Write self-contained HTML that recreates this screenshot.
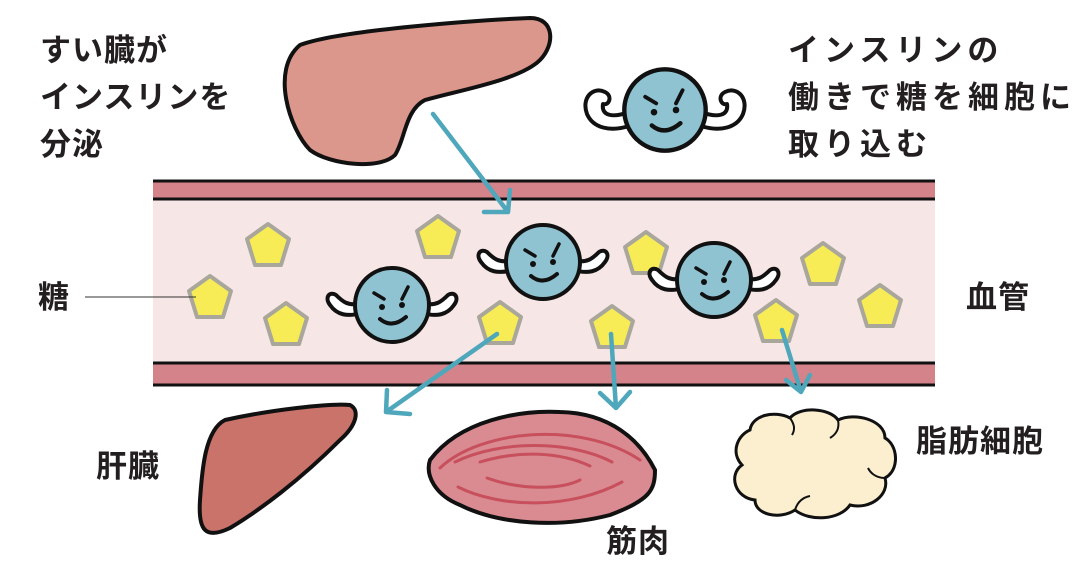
<!DOCTYPE html>
<html><head><meta charset="utf-8"><style>
html,body{margin:0;padding:0;background:#fff}
svg{display:block}
text{font-family:"Liberation Sans","Noto Sans CJK JP",sans-serif;font-weight:bold;fill:#231f20}
</style></head><body>
<svg width="1079" height="570" viewBox="0 0 1079 570" xmlns="http://www.w3.org/2000/svg">
<defs>
<g id="face">
  <circle r="37" fill="#8fc3d2" stroke="#111" stroke-width="4"/>
  <path d="M-18,-12 L-8,-6 M16,-18 L10,-6" stroke="#111" stroke-width="3.5" stroke-linecap="round"/>
  <circle cx="-10" cy="2" r="3" fill="#111"/><circle cx="10" cy="0" r="3" fill="#111"/>
  <path d="M-12,14 Q0,24 14,12" fill="none" stroke="#111" stroke-width="4" stroke-linecap="round"/>
</g>
<g id="ins">
  <path d="M-30,8 C-45,12 -55,10 -62,0 C-68,-8 -62,-14 -56,-10 C-50,-4 -44,2 -30,-2 Z" fill="#fff" stroke="#111" stroke-width="4" stroke-linejoin="round"/>
  <path d="M30,8 C45,12 55,10 62,0 C68,-8 62,-14 56,-10 C50,-4 44,2 30,-2 Z" fill="#fff" stroke="#111" stroke-width="4" stroke-linejoin="round"/>
  <use href="#face"/>
</g>
<polygon id="glu" points="0,-22 21,-7 13,19 -13,19 -21,-7" fill="#f7ec55" stroke="#a9a69c" stroke-width="4" stroke-linejoin="round"/>
</defs>
<rect width="1079" height="570" fill="#fff"/>
<!-- vessel -->
<rect x="153" y="200" width="782" height="163" fill="#f7e6e6"/>
<rect x="153" y="182" width="782" height="17" fill="#d4838b"/>
<rect x="153" y="364" width="782" height="20" fill="#d4838b"/>
<path d="M153,181 H935 M153,199 H935 M153,363 H935 M153,385 H935" stroke="#111" stroke-width="3"/>
<!-- pancreas -->
<path d="M300,45 C340,30 480,20 530,18 C555,18 555,45 540,60 C520,80 460,90 425,100 C405,110 405,140 395,155 C380,170 330,165 310,150 C290,130 270,70 300,45 Z" fill="#db978c" stroke="#111" stroke-width="4"/>
<!-- liver -->
<path d="M225,420 C270,410 330,403 350,405 C360,410 357,425 340,440 C300,480 260,510 230,528 C205,540 198,530 200,500 C202,470 205,430 225,420 Z" fill="#c9736b" stroke="#111" stroke-width="4"/>
<!-- muscle -->
<path d="M430,460 C460,420 520,410 560,412 C610,413 640,440 655,470 C655,490 650,500 610,515 C560,528 500,525 460,505 C435,495 425,475 430,460 Z" fill="#d98b91" stroke="#111" stroke-width="4"/>
<g fill="none" stroke="#c8505d" stroke-width="3" stroke-linecap="round">
<path d="M440,468 C480,430 580,420 640,460"/><path d="M455,462 C500,440 570,440 612,462"/><path d="M480,462 C520,450 560,452 590,466"/>
<path d="M487,478 C520,490 560,490 580,480"/><path d="M458,487 C500,508 570,510 622,482"/>
</g>
<!-- fat -->
<path d="M750,430 C752,415 775,410 790,418 C800,406 830,408 838,420 C855,412 885,420 885,438 C898,445 900,470 885,478 C890,495 870,510 850,505 C840,520 810,522 795,510 C780,520 755,515 755,500 C735,498 728,475 742,465 C730,452 738,435 750,430 Z" fill="#fbefd0" stroke="#111" stroke-width="3"/>
<g fill="none" stroke="#111" stroke-width="2"><path d="M790,418 C795,425 795,430 792,435"/><path d="M838,420 C840,430 835,435 830,438"/><path d="M885,478 C875,478 870,472 868,468"/><path d="M795,510 C798,500 805,497 810,496"/></g>
<!-- glucose -->
<use href="#glu" x="210" y="298"/><use href="#glu" x="268" y="246"/><use href="#glu" x="286" y="325"/>
<use href="#glu" x="438" y="238"/><use href="#glu" x="500" y="324"/><use href="#glu" x="646" y="254"/>
<use href="#glu" x="612" y="328"/><use href="#glu" x="823" y="265"/><use href="#glu" x="880" y="307"/><use href="#glu" x="776" y="322"/>
<!-- insulin -->
<use href="#ins" x="392" y="305"/><use href="#ins" x="543" y="262"/><use href="#ins" x="714" y="280"/>
<g transform="translate(665 110)">
  <path d="M-36,16 C-55,22 -72,18 -78,4 C-84,-12 -72,-24 -60,-18 C-52,-14 -56,-4 -62,-6 C-64,6 -52,8 -36,2 Z" fill="#fff" stroke="#111" stroke-width="4" stroke-linejoin="round"/>
  <path d="M36,16 C55,22 72,18 78,4 C84,-12 72,-24 60,-18 C52,-14 56,-4 62,-6 C64,6 52,8 36,2 Z" fill="#fff" stroke="#111" stroke-width="4" stroke-linejoin="round"/>
  <use href="#face" transform="scale(1.1)"/>
</g>
<!-- arrows -->
<g stroke="#4fa7bb" stroke-width="4.5" fill="none" stroke-linecap="round" stroke-linejoin="round">
<path d="M433,114 L508,212 M484,212 L508,212 L510,190"/>
<path d="M497,334 L386,412 M387,390 L386,412 L410,414"/>
<path d="M611,334 L616,408 M600,393 L616,408 L630,392"/>
<path d="M782,330 L801,392 M786,380 L801,392 L810,375"/>
</g>
<!-- labels -->
<line x1="85" y1="297" x2="196" y2="297" stroke="#333" stroke-width="1"/>
<g font-size="31" letter-spacing="1">
<text x="40" y="61">すい臓が</text><text x="40" y="108">インスリンを</text><text x="40" y="155">分泌</text>
<text x="788" y="61" letter-spacing="5">インスリンの</text><text x="788" y="108" letter-spacing="5">働きで糖を細胞に</text><text x="788" y="155" letter-spacing="5">取り込む</text>
<text x="38" y="308">糖</text><text x="966" y="308">血管</text>
<text x="96" y="477">肝臓</text><text x="606" y="552">筋肉</text><text x="916" y="452">脂肪細胞</text>
</g>
</svg>
</body></html>
